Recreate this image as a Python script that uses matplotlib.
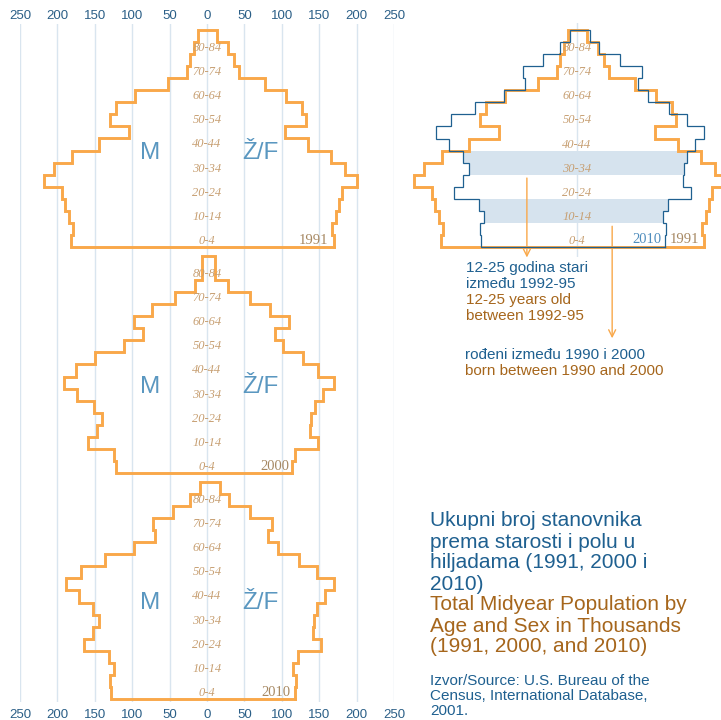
import matplotlib.pyplot as plt
import numpy as np

# age groups 0-4 ... 80-84, 85+ (18 bars), values in thousands
age_labels = ['0-4', '10-14', '20-24', '30-34', '40-44', '50-54', '60-64', '70-74', '80-84']

male_1991 = [182, 179, 184, 190, 194, 218, 205, 181, 144, 104, 130, 122, 96, 52, 27, 23, 18, 12.5]
female_1991 = [170, 167, 172, 177, 180, 200, 184, 166, 135, 104, 132, 127, 106, 78, 43, 36, 28.5, 14]

male_2000 = [122, 125, 159, 147, 141, 151, 174, 191, 175, 150, 111, 86, 98, 74, 43, 16, 7, 7]
female_2000 = [113, 118, 148, 138, 139, 144, 155, 170, 148, 128, 101, 91, 109, 84, 57, 28, 11, 11]

male_2010 = [129, 130, 125, 131, 165, 153, 144, 153, 171, 188, 168, 137, 97, 70, 72, 45, 23, 10]
female_2010 = [118, 119, 115, 121, 152, 142, 143, 147, 158, 170, 147, 123, 95, 81, 87, 58, 30, 17]

years = ['1991', '2000', '2010']
ticks = [-250, -200, -150, -100, -50, 0, 50, 100, 150, 200, 250]

ORANGE = '#f9a84a'
DARKBLUE = '#1f6090'
BROWN = '#a6661c'
MF_BLUE = '#5a97c0'
AGE_COL = '#c79f72'
YEAR_COL = '#a68862'
GRID = '#d9e5ef'
BAND = '#d6e3ee'

W, H = 721, 720


def outline(m, f):
    m = np.asarray(m, float)
    f = np.asarray(f, float)
    n = len(m)
    xs, ys = [], []
    for i in range(n):
        xs += [f[i], f[i]]
        ys += [i, i + 1]
    for i in range(n - 1, -1, -1):
        xs += [-m[i], -m[i]]
        ys += [i + 1, i]
    xs.append(f[0])
    ys.append(0)
    return np.array(xs), np.array(ys)


def px_axes(fig, x0, y0, x1, y1):
    # pixel box (top-left origin) -> axes
    return fig.add_axes([x0 / W, (H - y1) / H, (x1 - x0) / W, (y1 - y0) / H])


def age_text(ax):
    for k, lab in enumerate(age_labels):
        ax.text(0, 2 * k + 0.5, lab, ha='center', va='center', fontsize=9,
                family='Liberation Serif', style='italic', color=AGE_COL, zorder=5)


def style_ticks(a, top, pad):
    a.set_xlim(-250, 250)
    a.set_xticks(ticks)
    a.set_xticklabels([str(abs(t)) for t in ticks])
    a.tick_params(axis='x', length=0, labelsize=9.5, labelcolor='#2b5f87', pad=pad,
                  top=top, labeltop=top, bottom=not top, labelbottom=not top)
    for lab in a.get_xticklabels():
        lab.set_family('Liberation Sans')
    for s in a.spines.values():
        s.set_visible(False)


fig = plt.figure(figsize=(W / 100, H / 100), dpi=100)

# background grid for left pyramids
bg = px_axes(fig, 20, 24, 394, 702)
bg.set_ylim(0, 1)
bg.set_yticks([])
bg.patch.set_alpha(0)
style_ticks(bg, False, 5)
for t in ticks:
    bg.axvline(t, color=GRID, lw=1, zorder=0)
top = bg.twiny()
style_ticks(top, True, 1.5)

data = [(male_1991, female_1991), (male_2000, female_2000), (male_2010, female_2010)]
bottoms = [247, 473, 699]
mf_y = [7.8, 7.1, 8.0]
year_x = [162, 110, 112]

for (m, f), yb, yr, my, yx in zip(data, bottoms, years, mf_y, year_x):
    ax = px_axes(fig, 20, yb - 18 * 12.06, 394, yb)
    ax.set_xlim(-250, 250)
    ax.set_ylim(0, 18)
    ax.axis('off')
    xs, ys = outline(m, f)
    ax.plot(xs, ys, color=ORANGE, lw=2.1, solid_joinstyle='miter', clip_on=False, zorder=3)
    age_text(ax)
    ax.text(-76, my, 'M', ha='center', va='center', fontsize=17.5,
            family='Liberation Sans', color=MF_BLUE)
    ax.text(71, my, 'Ž/F', ha='center', va='center', fontsize=17.5,
            family='Liberation Sans', color=MF_BLUE)
    ax.text(yx, 0.55, yr, ha='right', va='center', fontsize=10.5,
            family='Liberation Serif', color=YEAR_COL, zorder=5)

# right comparison panel (1991 vs 2010)
axr = px_axes(fig, 390, 23, 764, 257)
axr.set_xlim(-250, 250)
axr.set_ylim(-10 / 12.06, 18 + 7 / 12.06)
axr.axis('off')
axr.axvline(0, color=GRID, lw=1, zorder=0)
for i in [2, 3, 6, 7]:
    axr.fill_betweenx([i, i + 1], -male_2010[i], female_2010[i], color=BAND, lw=0, zorder=1)
xs, ys = outline(male_1991, female_1991)
axr.plot(xs, ys, color=ORANGE, lw=2.1, solid_joinstyle='miter', clip_on=False, zorder=3)
xs, ys = outline(male_2010, female_2010)
axr.plot(xs, ys, color=DARKBLUE, lw=0.9, solid_joinstyle='miter', clip_on=False, zorder=4)
age_text(axr)
axr.text(113, 0.6, '2010', ha='right', va='center', fontsize=10.5,
         family='Liberation Serif', color='#4f8dbd', zorder=5)
axr.text(164, 0.6, '1991', ha='right', va='center', fontsize=10.5,
         family='Liberation Serif', color=YEAR_COL, zorder=5)

arrow = dict(arrowstyle='->,head_length=0.5,head_width=0.25', color=ORANGE, lw=1.0)
axr.annotate('', xy=(-67, -1.1), xytext=(-67, 5.95), arrowprops=arrow, annotation_clip=False)
axr.annotate('', xy=(47, -7.8), xytext=(47, 1.95), arrowprops=arrow, annotation_clip=False)


def ftext(x, y, s, color, size):
    fig.text(x / W, 1 - y / H, s, ha='left', va='center', fontsize=size,
             family='Liberation Sans', color=color)


ftext(466, 268, '12-25 godina stari', DARKBLUE, 11)
ftext(466, 284, 'između 1992-95', DARKBLUE, 11)
ftext(466, 300, '12-25 years old', BROWN, 11)
ftext(466, 316, 'between 1992-95', BROWN, 11)
ftext(465, 355, 'rođeni između 1990 i 2000', DARKBLUE, 11)
ftext(465, 371, 'born between 1990 and 2000', BROWN, 11)

title_lines = [('Ukupni broj stanovnika', DARKBLUE), ('prema starosti i polu u', DARKBLUE),
               ('hiljadama (1991, 2000 i', DARKBLUE), ('2010)', DARKBLUE),
               ('Total Midyear Population by', BROWN), ('Age and Sex in Thousands', BROWN),
               ('(1991, 2000, and 2010)', BROWN)]
for k, (s, c) in enumerate(title_lines):
    ftext(430, 521 + k * 21, s, c, 15)

src_lines = ['Izvor/Source: U.S. Bureau of the', 'Census, International Database,', '2001.']
for k, s in enumerate(src_lines):
    ftext(430, 681 + k * 15.2, s, DARKBLUE, 11)

fig.savefig('out.png', dpi=100)
